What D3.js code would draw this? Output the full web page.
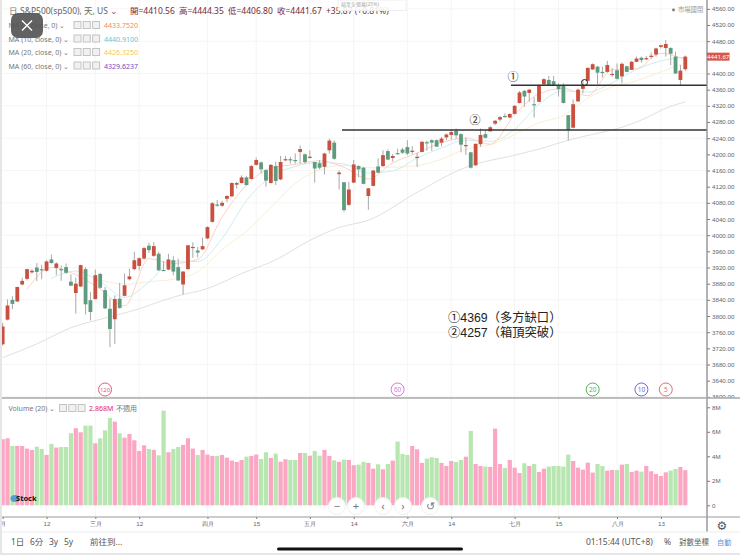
<!DOCTYPE html>
<html>
<head>
<meta charset="utf-8">
<script src="https://cdn.jsdelivr.net/npm/d3@7"></script>
<style>
  html, body { margin: 0; padding: 0; background: #fff; }
  svg { display: block; font-family: "Noto Sans", "Noto Sans CJK TC", sans-serif; }
</style>
</head>
<body>
<div id="chart"></div>
<script>
// Daily S&P500 candles (index 0 = left edge)
const opens = [3730,3791,3840,3836,3878,3892,3908,3920,3916,3912,3940,3919,3916,3921,3885,3857,3873,3916,3839,3842,
  3904,3864,3818,3792,3843,3850,3891,3916,3924,3942,3974,3949,3954,3914,3915,3938,3921,3878,3916,3969,
  3962,3965,3992,4033,4076,4073,4090,4096,4125,4129,4143,4139,4174,4180,4161,4129,4171,4138,4186,4188,
  4186,4206,4200,4192,4181,4178,4169,4210,4229,4151,4131,4075,4130,4171,4167,4097,4122,4170,4171,4208,
  4191,4203,4212,4218,4207,4192,4206,4230,4235,4235,4229,4242,4248,4258,4250,4221,4205,4173,4225,4250,
  4257,4276,4286,4295,4291,4300,4327,4357,4352,4324,4330,4373,4384,4381,4371,4370,4297,4266,4331,4362,
  4382,4410,4417,4404,4404,4397,4408,4393,4418,4409,4429,4439,4437,4442,4447,4466,4463,4463,4442,4384,4410.56];
const highs = [3783,3841,3849,3872,3895,3917,3916,3931,3927,3938,3952,3933,3925,3930,3903,3895,3927,3921,3859,3915,
  3907,3872,3843,3851,3882,3905,3917,3959,3945,3971,3981,3983,3959,3936,3954,3948,3942,3911,3975,3982,
  3971,3994,4022,4082,4087,4085,4099,4131,4132,4148,4146,4174,4192,4182,4163,4176,4182,4196,4196,4194,
  4202,4222,4202,4210,4181,4186,4204,4239,4235,4160,4131,4132,4186,4173,4169,4116,4161,4190,4210,4212,
  4201,4214,4216,4235,4220,4204,4233,4234,4237,4237,4243,4252,4262,4264,4252,4242,4206,4227,4264,4260,
  4270,4285,4295,4301,4301,4322,4357,4359,4362,4341,4373,4388,4394,4394,4376,4376,4297,4336,4363,4384,
  4415,4425,4419,4417,4431,4413,4425,4427,4419,4431,4442,4442,4443,4452,4464,4471,4483,4465,4454,4421,4444.35];
const lows = [3727,3789,3817,3835,3876,3888,3905,3887,3891,3910,3930,3901,3887,3905,3875,3806,3872,3804,3789,3841,
  3868,3817,3723,3731,3818,3849,3888,3913,3913,3940,3956,3946,3912,3912,3913,3901,3887,3853,3915,3944,
  3945,3963,3990,4031,4070,4070,4082,4095,4115,4128,4123,4138,4172,4153,4120,4128,4124,4136,4184,4177,
  4177,4177,4177,4190,4130,4163,4150,4202,4187,4113,4058,4073,4129,4143,4126,4063,4121,4153,4169,4186,
  4182,4200,4201,4198,4201,4169,4205,4209,4209,4219,4220,4235,4237,4239,4205,4198,4165,4171,4219,4239,
  4256,4272,4281,4291,4289,4299,4326,4318,4330,4291,4329,4371,4369,4369,4343,4326,4234,4264,4330,4351,
  4381,4409,4374,4390,4402,4392,4385,4376,4403,4409,4428,4427,4433,4437,4442,4462,4442,4421,4399,4370,4406.80];
const closes = [3774,3826,3830,3872,3887,3916,3912,3909,3915,3935,3931,3930,3914,3907,3875,3880,3926,3829,3810,3901,
  3870,3819,3768,3842,3820,3876,3898,3938,3943,3968,3963,3973,3913,3912,3940,3910,3888,3910,3975,3971,
  3957,3973,4020,4079,4073,4080,4097,4129,4129,4143,4124,4171,4186,4163,4135,4174,4134,4181,4188,4186,
  4184,4213,4181,4194,4165,4167,4202,4234,4189,4155,4062,4113,4175,4163,4127,4116,4160,4155,4198,4187,
  4196,4201,4204,4202,4209,4194,4231,4229,4229,4219,4239,4249,4255,4247,4224,4223,4167,4226,4248,4241,
  4267,4283,4292,4293,4300,4320,4353,4343,4360,4323,4371,4386,4371,4371,4361,4327,4260,4324,4360,4370,
  4414,4423,4402,4402,4421,4399,4387,4424,4404,4429,4437,4433,4438,4444,4462,4470,4473,4449,4400,4407,4441.67];
// Volume in millions, same order as the candles
const volumes = [5.39,5.47,4.84,4.84,4.84,4.63,4.52,4.79,4.60,4.11,5.01,4.71,4.76,4.76,5.88,6.29,5.96,6.50,6.50,5.06,
  5.47,6.12,7.13,6.83,5.88,5.52,5.82,5.31,4.44,4.90,4.60,4.52,4.08,7.73,4.33,4.60,4.76,4.93,5.47,4.63,
  4.11,4.52,4.14,4.03,4.03,4.11,3.89,3.65,3.54,3.70,3.97,4.03,4.14,3.78,4.33,3.86,4.22,3.56,3.76,3.70,
  3.70,4.27,4.27,4.05,4.44,4.05,4.52,4.03,3.67,3.54,3.73,3.70,3.27,3.32,3.54,3.46,2.99,3.35,2.94,3.37,
  3.65,5.20,4.19,4.11,4.84,4.57,3.46,3.81,3.92,3.86,3.46,3.21,3.62,3.54,3.70,3.97,6.07,3.37,3.21,3.16,
  3.13,6.26,3.37,3.05,3.70,3.07,2.64,3.43,3.21,3.37,2.72,2.99,3.16,3.21,3.21,3.16,4.14,3.62,3.07,2.91,
  3.48,2.67,3.37,3.21,2.83,2.88,2.88,3.32,3.37,2.72,2.83,2.75,3.21,2.78,2.56,2.39,2.69,2.83,2.97,3.13,2.868];

// Moving averages, read at a sample of candles
const ma5Index = [5,10,15,20,25,30,35,40,45,50,55,60,65,70,75,80,85,90,95,100,105,110,115,120,125,130,135,140];
const ma5Values = [3866,3920,3902,3867,3825,3942,3930,3940,4045,4124,4166,4175,4184,4168,4139,4179,4203,4229,4240,4225,4298,4350,4363,4345,4409,4412,4450,4433.75];
const ma10Index = [10,15,20,25,30,35,40,45,50,55,60,65,70,75,80,85,90,95,100,105,110,115,120,125,130,135,140];
const ma10Values = [3893,3911,3885,3846,3884,3936,3935,3992,4085,4145,4170,4180,4176,4154,4159,4191,4216,4235,4232,4262,4324,4357,4354,4377,4410,4431,4440.91];
const ma20Index = [20,25,30,35,40,45,50,55,60,65,70,75,80,85,90,95,100,105,110,115,120,125,130,135,140];
const ma20Values = [3889,3879,3885,3891,3910,3964,4010,4068,4128,4162,4173,4167,4168,4172,4188,4213,4224,4249,4278,4296,4339,4367,4382,4404,4426.33];
const ma60Index = [0,7,14,21,28,33,36,42,49,56,63,69,75,85,95,105,110,116,123,127,131,137,140];
const ma60Values = [3697,3731,3771,3795,3818,3839,3850,3868,3905,3939,3987,4019,4037,4106,4168,4198,4213,4235,4255,4267,4285,4319,4329.62];

// 4440 sits under the last price tag in the reference
const priceTicks = [3600,3640,3680,3720,3760,3800,3840,3880,3920,3960,4000,4040,4080,4120,4160,4200,4240,4280,4320,4360,4400,4480,4520,4560];
const volumeTicks = [0,2,4,6,8];
const dateTickIndex = [0,9,19,28,42,52,63,72,83,92,105,114,126,135];
const dateTickLabels = ["月","12","三月","12","四月","15","五月","14","六月","14","七月","15","八月","13"];

// Levels drawn by hand on the screenshot
const gapLevel = 4371;
const boxLevel = 4260;
const noteLines = ["①4369（多方缺口）", "②4257（箱頂突破）"];

const maLegend = [
    { label: "MA (5, close, 0)", value: "4433.7520", color: "#f58a5c" },
    { label: "MA (10, close, 0)", value: "4440.9100", color: "#5cc8dc" },
    { label: "MA (20, close, 0)", value: "4426.3250", color: "#f5c56a" },
    { label: "MA (60, close, 0)", value: "4329.6237", color: "#6a4fc0" }
];
const maBadges = [
    { period: 120, index: 21, color: "#d9607f" },
    { period: 60, index: 81, color: "#dd77dd" },
    { period: 20, index: 121, color: "#5cae5c" },
    { period: 10, index: 131, color: "#6a6ae0" },
    { period: 5, index: 136, color: "#ec6a6a" }
];

const width = 740, height = 555;
const axisX = 707, dividerY = 398, bottomAxisY = 517, footerY = 532;
const UP = "#c9503f", DOWN = "#5d9c7e";
const UP_VOL = "#fba6c2", DOWN_VOL = "#b7e6b0";

const x = d3.scaleLinear().domain([0, 140]).range([2.67, 685.3]);
const y = d3.scaleLinear().domain([3640, 4520]).range([380.7, 25]);
const yVol = d3.scaleLinear().domain([0, 8]).range([505.3, 407.3]);

const svg = d3.select("#chart").append("svg")
    .attr("width", width)
    .attr("height", height);

svg.append("rect").attr("width", width).attr("height", height).attr("fill", "#fff");

svg.append("clipPath").attr("id", "priceClip").append("rect")
    .attr("x", 2).attr("y", 0).attr("width", axisX - 2).attr("height", dividerY);
svg.append("clipPath").attr("id", "labelClip").append("rect")
    .attr("x", axisX).attr("y", 0).attr("width", 33).attr("height", dividerY);

// Grid
const grid = svg.append("g").attr("stroke", "#f5f5f5").attr("stroke-width", 1);
grid.selectAll(".gx").data(dateTickIndex.slice(1)).join("line")
    .attr("x1", d => x(d)).attr("x2", d => x(d)).attr("y1", 0).attr("y2", bottomAxisY);
grid.selectAll(".gy").data(priceTicks.filter(d => d % 80 === 0)).join("line")
    .attr("x1", 2).attr("x2", axisX).attr("y1", d => y(d)).attr("y2", d => y(d));

const price = svg.append("g").attr("clip-path", "url(#priceClip)");

// MA lines are very faint in the reference
const maLine = (idx, values, color) => {
    price.append("path")
        .datum(idx.map((d, i) => [d, values[i]]))
        .attr("fill", "none")
        .attr("stroke", color)
        .attr("stroke-width", 1)
        .attr("d", d3.line().x(d => x(d[0])).y(d => y(d[1])).curve(d3.curveMonotoneX));
};
maLine(ma60Index, ma60Values, "#e0e0e0");
maLine(ma20Index, ma20Values, "#faefd2");
maLine(ma10Index, ma10Values, "#cdeef2");
maLine(ma5Index, ma5Values, "#fbd3c4");

// Candles
const candles = price.selectAll("g.candle").data(d3.range(opens.length)).join("g");
candles.append("line")
    .attr("x1", i => x(i)).attr("x2", i => x(i))
    .attr("y1", i => y(highs[i])).attr("y2", i => y(lows[i]))
    .attr("stroke", "#a8a8a8")
    .attr("stroke-width", 1);
candles.append("rect")
    .attr("x", i => x(i) - 1.9)
    .attr("width", 3.8)
    .attr("y", i => y(Math.max(opens[i], closes[i])))
    .attr("height", i => Math.max(1.2, Math.abs(y(opens[i]) - y(closes[i]))))
    .attr("fill", i => closes[i] >= opens[i] ? UP : DOWN);

// Hand drawn support lines
price.selectAll(".level").data([{ p: gapLevel, from: 511 }, { p: boxLevel, from: 342 }]).join("line")
    .attr("x1", d => d.from).attr("x2", axisX)
    .attr("y1", d => y(d.p)).attr("y2", d => y(d.p))
    .attr("stroke", "#333")
    .attr("stroke-width", 1.5);
svg.append("text").attr("x", 513).attr("y", 81).attr("text-anchor", "middle")
    .attr("font-size", 11).attr("fill", "#222").text("①");
svg.append("text").attr("x", 475).attr("y", 123.5).attr("text-anchor", "middle")
    .attr("font-size", 11).attr("fill", "#222").text("②");
svg.append("circle").attr("cx", 584.5).attr("cy", 82.5).attr("r", 3)
    .attr("fill", "none").attr("stroke", "#222");

svg.selectAll(".note").data(noteLines).join("text")
    .attr("x", 448)
    .attr("y", (d, i) => 321.5 + i * 15)
    .attr("font-size", 12.3)
    .attr("font-family", '"Liberation Sans", "Noto Sans CJK TC", sans-serif')
    .attr("fill", "#222")
    .text(d => d);

// MA start badges
const badge = svg.selectAll(".badge").data(maBadges).join("g")
    .attr("transform", d => `translate(${x(d.index)},389.5)`);
badge.append("circle").attr("r", 6.5).attr("fill", "#fff").attr("stroke", d => d.color);
badge.append("text").attr("text-anchor", "middle").attr("dy", 2.4)
    .attr("font-size", d => d.period > 99 ? 6 : 6.5).attr("fill", d => d.color).text(d => d.period);

// Volume
svg.append("g").selectAll("rect").data(volumes).join("rect")
    .attr("x", (d, i) => x(i) - 2.1)
    .attr("width", 4.2)
    .attr("y", d => yVol(d))
    .attr("height", d => yVol(0) - yVol(d))
    .attr("fill", (d, i) => closes[i] >= opens[i] ? UP_VOL : DOWN_VOL);

// Axes
const styleAxis = g => {
    g.select(".domain").remove();
    g.selectAll("line").attr("stroke", "#777");
    g.selectAll("text").attr("fill", "#666").attr("font-size", 6.2);
};
svg.append("g").attr("clip-path", "url(#labelClip)").append("g")
    .attr("transform", `translate(${axisX},0)`)
    .call(d3.axisRight(y).tickValues(priceTicks).tickFormat(d3.format(".2f")).tickSize(3).tickPadding(2))
    .call(styleAxis);
svg.append("g")
    .attr("transform", `translate(${axisX},0)`)
    .call(d3.axisRight(yVol).tickValues(volumeTicks).tickFormat(d => d === 0 ? "0" : d + "M").tickSize(3).tickPadding(2))
    .call(styleAxis);
svg.append("g")
    .attr("transform", `translate(0,${bottomAxisY})`)
    .call(d3.axisBottom(x).tickValues(dateTickIndex).tickFormat((d, i) => dateTickLabels[i]).tickSize(2).tickPadding(3))
    .call(styleAxis);

svg.append("line").attr("x1", axisX).attr("x2", axisX).attr("y1", 0).attr("y2", footerY)
    .attr("stroke", "#8a8a8a").attr("stroke-width", 1.3);
svg.append("line").attr("x1", 2).attr("x2", width).attr("y1", dividerY).attr("y2", dividerY)
    .attr("stroke", "#a9a9a9").attr("stroke-width", 1.6);
svg.append("line").attr("x1", 2).attr("x2", width).attr("y1", bottomAxisY).attr("y2", bottomAxisY)
    .attr("stroke", "#999");
svg.append("line").attr("x1", 2).attr("x2", width).attr("y1", footerY).attr("y2", footerY)
    .attr("stroke", "#ececec");

// Last price tag
svg.append("rect").attr("x", axisX).attr("y", y(closes[140]) - 4).attr("width", 22.5).attr("height", 8).attr("fill", "#d9574a");
svg.append("text").attr("x", axisX + 11.2).attr("y", y(closes[140]) + 2.1).attr("text-anchor", "middle")
    .attr("font-size", 6).attr("fill", "#fff").text("4441.67");

// Header
const header = svg.append("g").attr("font-size", 8.5);
header.append("text").attr("x", 9).attr("y", 13.5).attr("fill", "#777").text("日");
header.append("text").attr("x", 20).attr("y", 13.5).attr("fill", "#666").text("S&P500(sp500), 天, US ⌄");
const ohlc = ["開=4410.56", "高=4444.35", "低=4406.80", "收=4441.67"];
header.selectAll(".ohlc").data(ohlc).join("text")
    .attr("x", (d, i) => 130 + i * 49)
    .attr("y", 13.5)
    .attr("fill", "#7a2a36")
    .text(d => d);
header.append("text").attr("x", 326).attr("y", 13.5).attr("fill", "#7a2a36").text("+35.87 (+0.81%)");
svg.append("rect").attr("x", 338).attr("y", 0).attr("width", 68).attr("height", 10.5)
    .attr("fill", "#fff").attr("fill-opacity", 0.85).attr("stroke", "#eee");
svg.append("text").attr("x", 341).attr("y", 5.8)
    .attr("font-size", 5).attr("fill", "#aaa").text("縮至全螢幕(25%)");
svg.append("circle").attr("cx", 673.5).attr("cy", 10).attr("r", 1.4).attr("fill", "#777");
svg.append("text").attr("x", 678).attr("y", 12.2).attr("font-size", 6.3).attr("fill", "#999").text("市場國閉");

// Small legend icons, same look on MA rows and Volume row
const legendIcons = (g, left) => {
    g.selectAll(".icon").data([0, 1, 2]).join("rect")
        .attr("x", d => left + d * 9.3)
        .attr("y", -6.5)
        .attr("width", 7).attr("height", 7)
        .attr("fill", "#f1f1f1")
        .attr("stroke", "#c4c4c4");
};
const legendRow = svg.selectAll(".ma-row").data(maLegend).join("g")
    .attr("transform", (d, i) => `translate(8.5,${28 + i * 13.5})`)
    .attr("font-size", 7);
legendRow.append("text").attr("fill", "#777").text(d => d.label + " ⌄");
legendRow.each(function () { legendIcons(d3.select(this), 65.5); });
legendRow.append("text").attr("x", 95.5).attr("fill", d => d.color).attr("font-size", 7).text(d => d.value);

const volRow = svg.append("g").attr("transform", "translate(8.5,411)").attr("font-size", 7);
volRow.append("text").attr("fill", "#777").text("Volume (20) ⌄");
legendIcons(volRow, 51);
volRow.append("text").attr("x", 80.5).attr("fill", "#e91e63").text("2.868M");
volRow.append("text").attr("x", 107.5).attr("fill", "#777").text("不適用");

// Close button of the photo viewer
const closeBtn = svg.append("g");
closeBtn.append("rect").attr("x", 11).attr("y", 13).attr("width", 32).attr("height", 25).attr("rx", 7).attr("fill", "#555").attr("fill-opacity", 0.92);
closeBtn.append("path").attr("d", "M22 20.5L32 30.5M32 20.5L22 30.5").attr("stroke", "#fff").attr("stroke-width", 1.4);

// Watermark
const mark = svg.append("g");
mark.append("ellipse").attr("cx", 15).attr("cy", 498.5).attr("rx", 4.5).attr("ry", 3.5).attr("fill", "#5b9bd5");
mark.append("text").attr("x", 16).attr("y", 501).attr("font-size", 7.5).attr("font-weight", "bold").attr("fill", "#111").text("Stock");

// Chart navigation buttons
const navButtons = [
    { cx: 337, label: "−" }, { cx: 356, label: "+" }, { cx: 383, label: "‹" },
    { cx: 403, label: "›" }, { cx: 430, label: "↺" }
];
const nav = svg.selectAll(".nav").data(navButtons).join("g")
    .attr("transform", d => `translate(${d.cx},506)`);
nav.append("circle").attr("r", 8.5).attr("fill", "#fff").attr("stroke", "#f0f0f0");
nav.append("text").attr("text-anchor", "middle").attr("dy", 3.5).attr("font-size", 11).attr("fill", "#777").text(d => d.label);

// Gear
svg.append("text").attr("x", 722).attr("y", 529.5).attr("text-anchor", "middle").attr("font-size", 12)
    .attr("font-family", "DejaVu Sans").attr("fill", "#555").text("⚙");

// Footer
const footer = svg.append("g").attr("font-size", 8.5).attr("fill", "#555");
const footerLeft = [{ t: "1日", at: 11 }, { t: "6分", at: 30 }, { t: "3y", at: 49 }, { t: "5y", at: 64 }, { t: "前往到...", at: 90 }];
footer.selectAll(".fl").data(footerLeft).join("text").attr("x", d => d.at).attr("y", 545).text(d => d.t);
footer.append("text").attr("x", 586).attr("y", 545).text("01:15:44 (UTC+8)");
footer.append("line").attr("x1", 654).attr("x2", 654).attr("y1", 536).attr("y2", 549).attr("stroke", "#eee");
footer.append("text").attr("x", 664).attr("y", 545).text("%");
footer.append("text").attr("x", 679).attr("y", 545).attr("font-size", 7.5).text("對數坐標");
footer.append("text").attr("x", 717).attr("y", 545).attr("font-size", 7.2).attr("fill", "#4a9de0").text("自動");

// Phone screenshot edges
svg.append("rect").attr("x", 0).attr("y", 0).attr("width", 2).attr("height", height).attr("fill", "#e6e6e6");
svg.append("rect").attr("x", 0).attr("y", 553).attr("width", width).attr("height", 2).attr("fill", "#e6e6e6");
svg.append("rect").attr("x", 277).attr("y", 547.5).attr("width", 186).attr("height", 3).attr("rx", 1.5).attr("fill", "#111");
</script>
</body>
</html>
